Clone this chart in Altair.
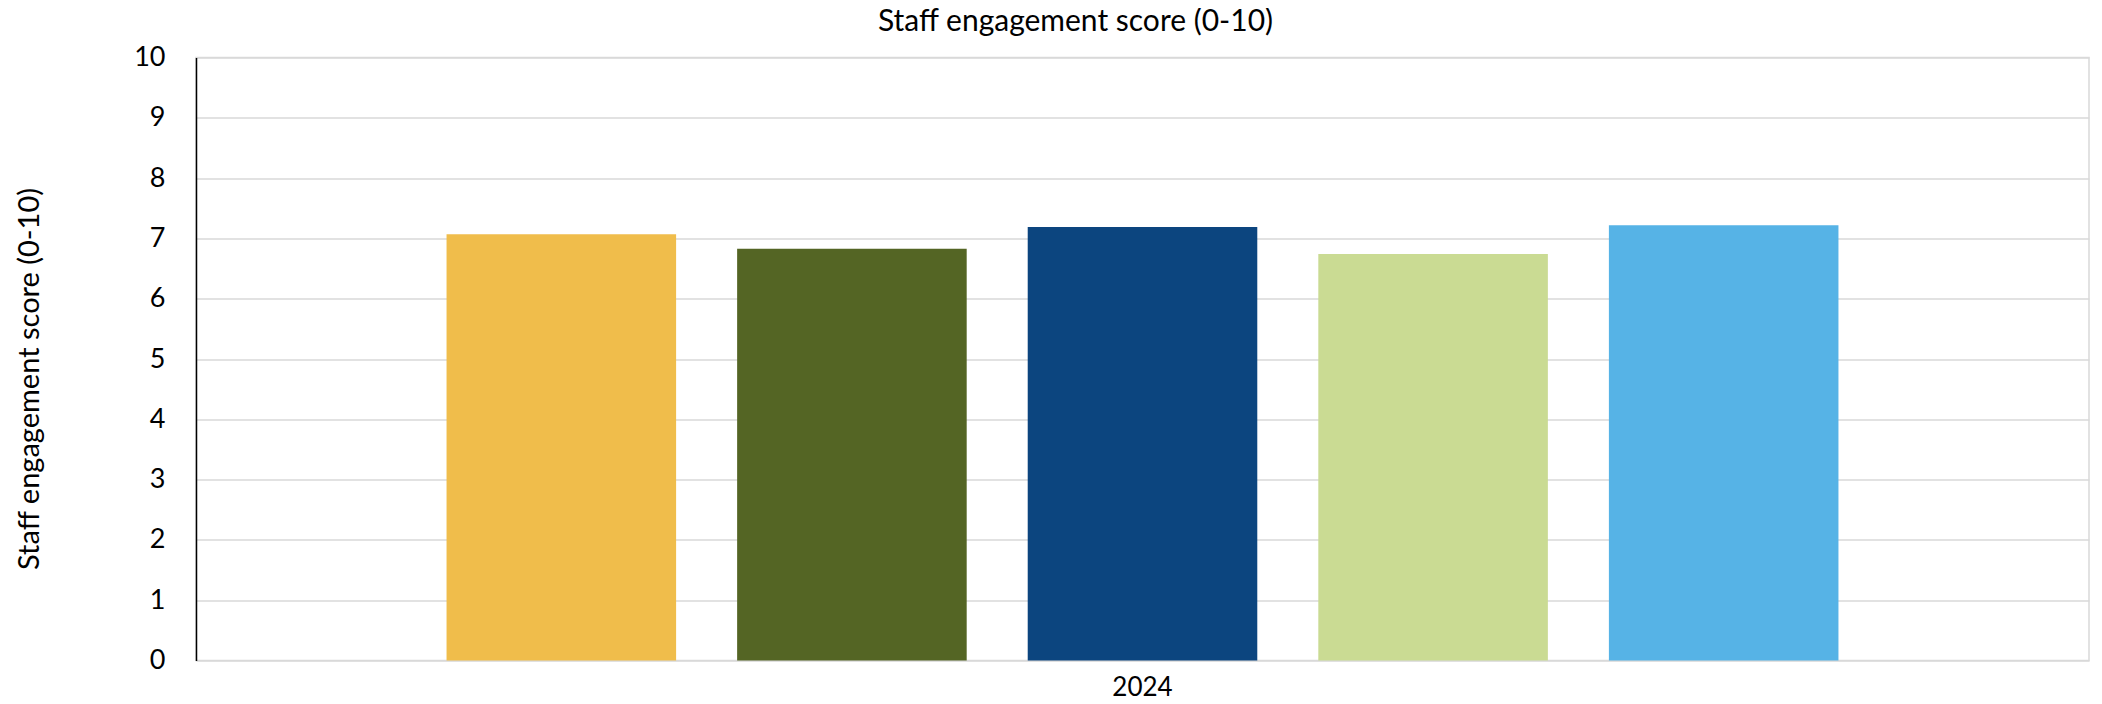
import altair as alt
import pandas as pd

# ---- data ----
years = ["2024", "2024", "2024", "2024", "2024"]
groups = ["Group A", "Group B", "Group C", "Group D", "Group E"]
scores = [7.07, 6.83, 7.19, 6.74, 7.22]
colors = ["#F0BD4B", "#546524", "#0C457F", "#CADB93", "#56B3E6"]
y_ticks = [0, 1, 2, 3, 4, 5, 6, 7, 8, 9, 10]
title_text = "Staff engagement score (0-10)"

df = pd.DataFrame({"year": years, "group": groups, "score": scores})

FONT = "Lato"

chart = (
    alt.Chart(df)
    .mark_bar()
    .encode(
        x=alt.X(
            "year:N",
            title=None,
            scale=alt.Scale(paddingInner=0, paddingOuter=0.18),
            axis=alt.Axis(
                labelAngle=0,
                domain=False,
                ticks=False,
                grid=False,
                labelFont=FONT,
                labelFontSize=26,
                labelColor="black",
                labelBaseline="alphabetic",
                labelPadding=35,
            ),
        ),
        xOffset=alt.XOffset(
            "group:N", sort=groups, scale=alt.Scale(paddingInner=0.21, paddingOuter=0)
        ),
        y=alt.Y(
            "score:Q",
            scale=alt.Scale(domain=[0, 10], nice=False),
            axis=alt.Axis(
                values=y_ticks,
                title=title_text,
                ticks=False,
                domainColor="black",
                domainWidth=1.5,
                labelFont=FONT,
                labelFontSize=27,
                labelColor="black",
                labelPadding=31,
                titleFont=FONT,
                titleFontSize=29,
                titleFontWeight="normal",
                titleColor="black",
                titleAngle=-90,
                titleAlign="center",
                titleBaseline="middle",
                titleX=-167,
                titleY=321,
                gridColor="#D9D9D9",
                gridWidth=1.5,
            ),
        ),
        color=alt.Color(
            "group:N", scale=alt.Scale(domain=groups, range=colors), legend=None
        ),
    )
    .properties(
        width=1893,
        height=603,
        autosize=alt.AutoSizeParams(type="none"),
        padding={"left": 188, "top": 49.5, "right": 5, "bottom": 35.5},
        title=alt.TitleParams(
            text=title_text,
            font=FONT,
            fontSize=30,
            fontWeight="normal",
            color="black",
            anchor="middle",
            dx=-67,
            dy=33,
            baseline="alphabetic",
            offset=16,
        ),
    )
    .configure_view(stroke="#D9D9D9", strokeWidth=1.5)
)

chart.save("out.html", embed_options={"renderer": "svg", "actions": False})
